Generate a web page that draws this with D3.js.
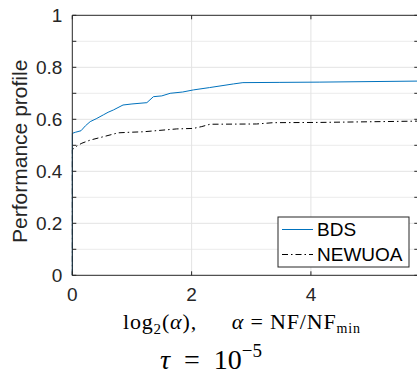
<!DOCTYPE html>
<html>
<head>
<meta charset="utf-8">
<script src="https://cdn.jsdelivr.net/npm/d3@7"></script>
<style>
  body { margin: 0; background: #fff; }
  svg { display: block; }
  .tick-label { font-family: "Liberation Sans", Arial, sans-serif; font-size: 19px; fill: #262626; }
  .math { font-family: "Liberation Serif", "DejaVu Serif", serif; fill: #000; }
</style>
</head>
<body>
<div id="chart"></div>
<script>
// performance profile values (x = log2(alpha))
var bdsX = [0, 0, 0.05, 0.146, 0.22, 0.30, 0.40, 0.52, 0.60, 0.69, 0.85, 1.0, 1.25, 1.36, 1.50, 1.64, 1.85, 2.03, 2.30, 2.70, 2.86, 3.48, 4.15, 5.8];
var bdsY = [0, 0.546, 0.550, 0.556, 0.575, 0.591, 0.602, 0.617, 0.627, 0.636, 0.655, 0.659, 0.664, 0.687, 0.690, 0.700, 0.705, 0.713, 0.722, 0.736, 0.741, 0.742, 0.743, 0.747];

var newuoaX = [0, 0, 0.02, 0.08, 0.16, 0.30, 0.52, 0.77, 0.95, 1.19, 1.75, 2.03, 2.17, 2.31, 3.09, 3.37, 4.15, 5.8];
var newuoaY = [0, 0.482, 0.488, 0.498, 0.508, 0.520, 0.533, 0.548, 0.550, 0.552, 0.563, 0.565, 0.572, 0.581, 0.582, 0.587, 0.588, 0.593];

var xTicks = [0, 2, 4];
var yLabelTicks = [0, 0.2, 0.4, 0.6, 0.8, 1];
var yMinorTicks = [0.1, 0.3, 0.5, 0.7, 0.9];
var seriesNames = ["BDS", "NEWUOA"];

var width = 417, height = 375;
var margin = { top: 15.3, left: 72.3 };
var plotW = 346, plotH = 260;

var svg = d3.select("#chart").append("svg")
  .attr("width", width)
  .attr("height", height);

var g = svg.append("g")
  .attr("transform", "translate(" + margin.left + "," + margin.top + ")");

var x = d3.scaleLinear().domain([0, 5.8]).range([0, plotW]);
var y = d3.scaleLinear().domain([0, 1]).range([plotH, 0]);

// grid
g.selectAll(".gminor").data(yMinorTicks).enter().append("line")
  .attr("x1", 0).attr("x2", plotW)
  .attr("y1", function (d) { return y(d); }).attr("y2", function (d) { return y(d); })
  .attr("stroke", "#ececec").attr("stroke-width", 1);
g.selectAll(".gmajor").data(yLabelTicks.slice(1, -1)).enter().append("line")
  .attr("x1", 0).attr("x2", plotW)
  .attr("y1", function (d) { return y(d); }).attr("y2", function (d) { return y(d); })
  .attr("stroke", "#e3e3e3").attr("stroke-width", 1);
g.selectAll(".gx").data(xTicks.slice(1)).enter().append("line")
  .attr("x1", function (d) { return x(d); }).attr("x2", function (d) { return x(d); })
  .attr("y1", 0).attr("y2", plotH)
  .attr("stroke", "#e3e3e3").attr("stroke-width", 1);

// curves
svg.append("clipPath").attr("id", "clip").append("rect")
  .attr("x", -1).attr("y", -1).attr("width", plotW + 2).attr("height", plotH + 2);

var line = d3.line()
  .x(function (d) { return x(d[0]); })
  .y(function (d) { return y(d[1]); });

g.append("path")
  .datum(newuoaX.map(function (v, i) { return [v, newuoaY[i]]; }))
  .attr("d", line)
  .attr("clip-path", "url(#clip)")
  .attr("fill", "none")
  .attr("stroke", "#000")
  .attr("stroke-width", 1)
  .attr("stroke-dasharray", "6,3,1.5,3");

g.append("path")
  .datum(bdsX.map(function (v, i) { return [v, bdsY[i]]; }))
  .attr("d", line)
  .attr("clip-path", "url(#clip)")
  .attr("fill", "none")
  .attr("stroke", "#0072bd")
  .attr("stroke-width", 1);

// axes box
var axisColor = "#262626";
g.append("line").attr("x1", 0).attr("x2", plotW).attr("y1", 0).attr("y2", 0).attr("stroke", axisColor);
g.append("line").attr("x1", 0).attr("x2", plotW).attr("y1", plotH).attr("y2", plotH).attr("stroke", axisColor);
g.append("line").attr("x1", 0).attr("x2", 0).attr("y1", 0).attr("y2", plotH).attr("stroke", axisColor);
g.append("line").attr("x1", plotW).attr("x2", plotW).attr("y1", 0).attr("y2", plotH).attr("stroke", axisColor);

// ticks
var tl = 4;
var allY = yLabelTicks.concat(yMinorTicks);
g.selectAll(".ytl").data(allY).enter().append("line")
  .attr("x1", 0).attr("x2", tl)
  .attr("y1", function (d) { return y(d); }).attr("y2", function (d) { return y(d); })
  .attr("stroke", axisColor);
g.selectAll(".ytr").data(allY).enter().append("line")
  .attr("x1", plotW - tl).attr("x2", plotW)
  .attr("y1", function (d) { return y(d); }).attr("y2", function (d) { return y(d); })
  .attr("stroke", axisColor);
g.selectAll(".xtb").data(xTicks).enter().append("line")
  .attr("x1", function (d) { return x(d); }).attr("x2", function (d) { return x(d); })
  .attr("y1", plotH).attr("y2", plotH - tl)
  .attr("stroke", axisColor);
g.selectAll(".xtt").data(xTicks).enter().append("line")
  .attr("x1", function (d) { return x(d); }).attr("x2", function (d) { return x(d); })
  .attr("y1", 0).attr("y2", tl)
  .attr("stroke", axisColor);

// tick labels
g.selectAll(".ylab").data(yLabelTicks).enter().append("text")
  .attr("class", "tick-label")
  .attr("x", -10)
  .attr("y", function (d) { return y(d); })
  .attr("dy", "0.35em")
  .attr("text-anchor", "end")
  .text(function (d) { return d3.format("~g")(d); });

g.selectAll(".xlab").data(xTicks).enter().append("text")
  .attr("class", "tick-label")
  .attr("x", function (d) { return x(d); })
  .attr("y", plotH + 26)
  .attr("text-anchor", "middle")
  .text(function (d) { return d; });

// y axis label
svg.append("text")
  .attr("class", "tick-label")
  .attr("transform", "translate(27," + (margin.top + plotH / 2 + 6) + ") rotate(-90)")
  .attr("text-anchor", "middle")
  .style("font-size", "21px")
  .text("Performance profile");

// x axis label (math)
var xl = svg.append("text")
  .attr("class", "math")
  .attr("x", 123).attr("y", 329)
  .attr("textLength", 237)
  .attr("lengthAdjust", "spacing")
  .style("font-size", "22px");
xl.append("tspan").text("log");
xl.append("tspan").attr("dy", 5).style("font-size", "15px").text("2");
xl.append("tspan").attr("dy", -5).text("(");
xl.append("tspan").style("font-style", "italic").text("α");
xl.append("tspan").text("),\u2003\u2002");
xl.append("tspan").style("font-style", "italic").text("α");
xl.append("tspan").text(" = NF/NF");
xl.append("tspan").attr("dy", 4).style("font-size", "14px").text("min");

// title
var tt = svg.append("text")
  .attr("class", "math")
  .attr("x", 160).attr("y", 369)
  .style("font-size", "28px");
tt.append("tspan").style("font-style", "italic").text("τ");
tt.append("tspan").text("\u2002=\u200210");
tt.append("tspan").attr("dy", -12).style("font-size", "19px").text("−5");

// legend
var lg = svg.append("g").attr("transform", "translate(278,217)");
lg.append("rect")
  .attr("width", 131).attr("height", 50)
  .attr("fill", "#fff").attr("stroke", axisColor).attr("stroke-width", 1);
var styles = [
  { color: "#0072bd", dash: null },
  { color: "#000", dash: "6,3,1.5,3" }
];
seriesNames.forEach(function (name, i) {
  var yy = 12.5 + i * 25;
  lg.append("line")
    .attr("x1", 4).attr("x2", 35).attr("y1", yy).attr("y2", yy)
    .attr("stroke", styles[i].color)
    .attr("stroke-dasharray", styles[i].dash);
  lg.append("text")
    .attr("class", "tick-label")
    .attr("x", 39).attr("y", yy)
    .attr("dy", "0.36em")
    .style("fill", "#000")
    .text(name);
});
</script>
</body>
</html>
